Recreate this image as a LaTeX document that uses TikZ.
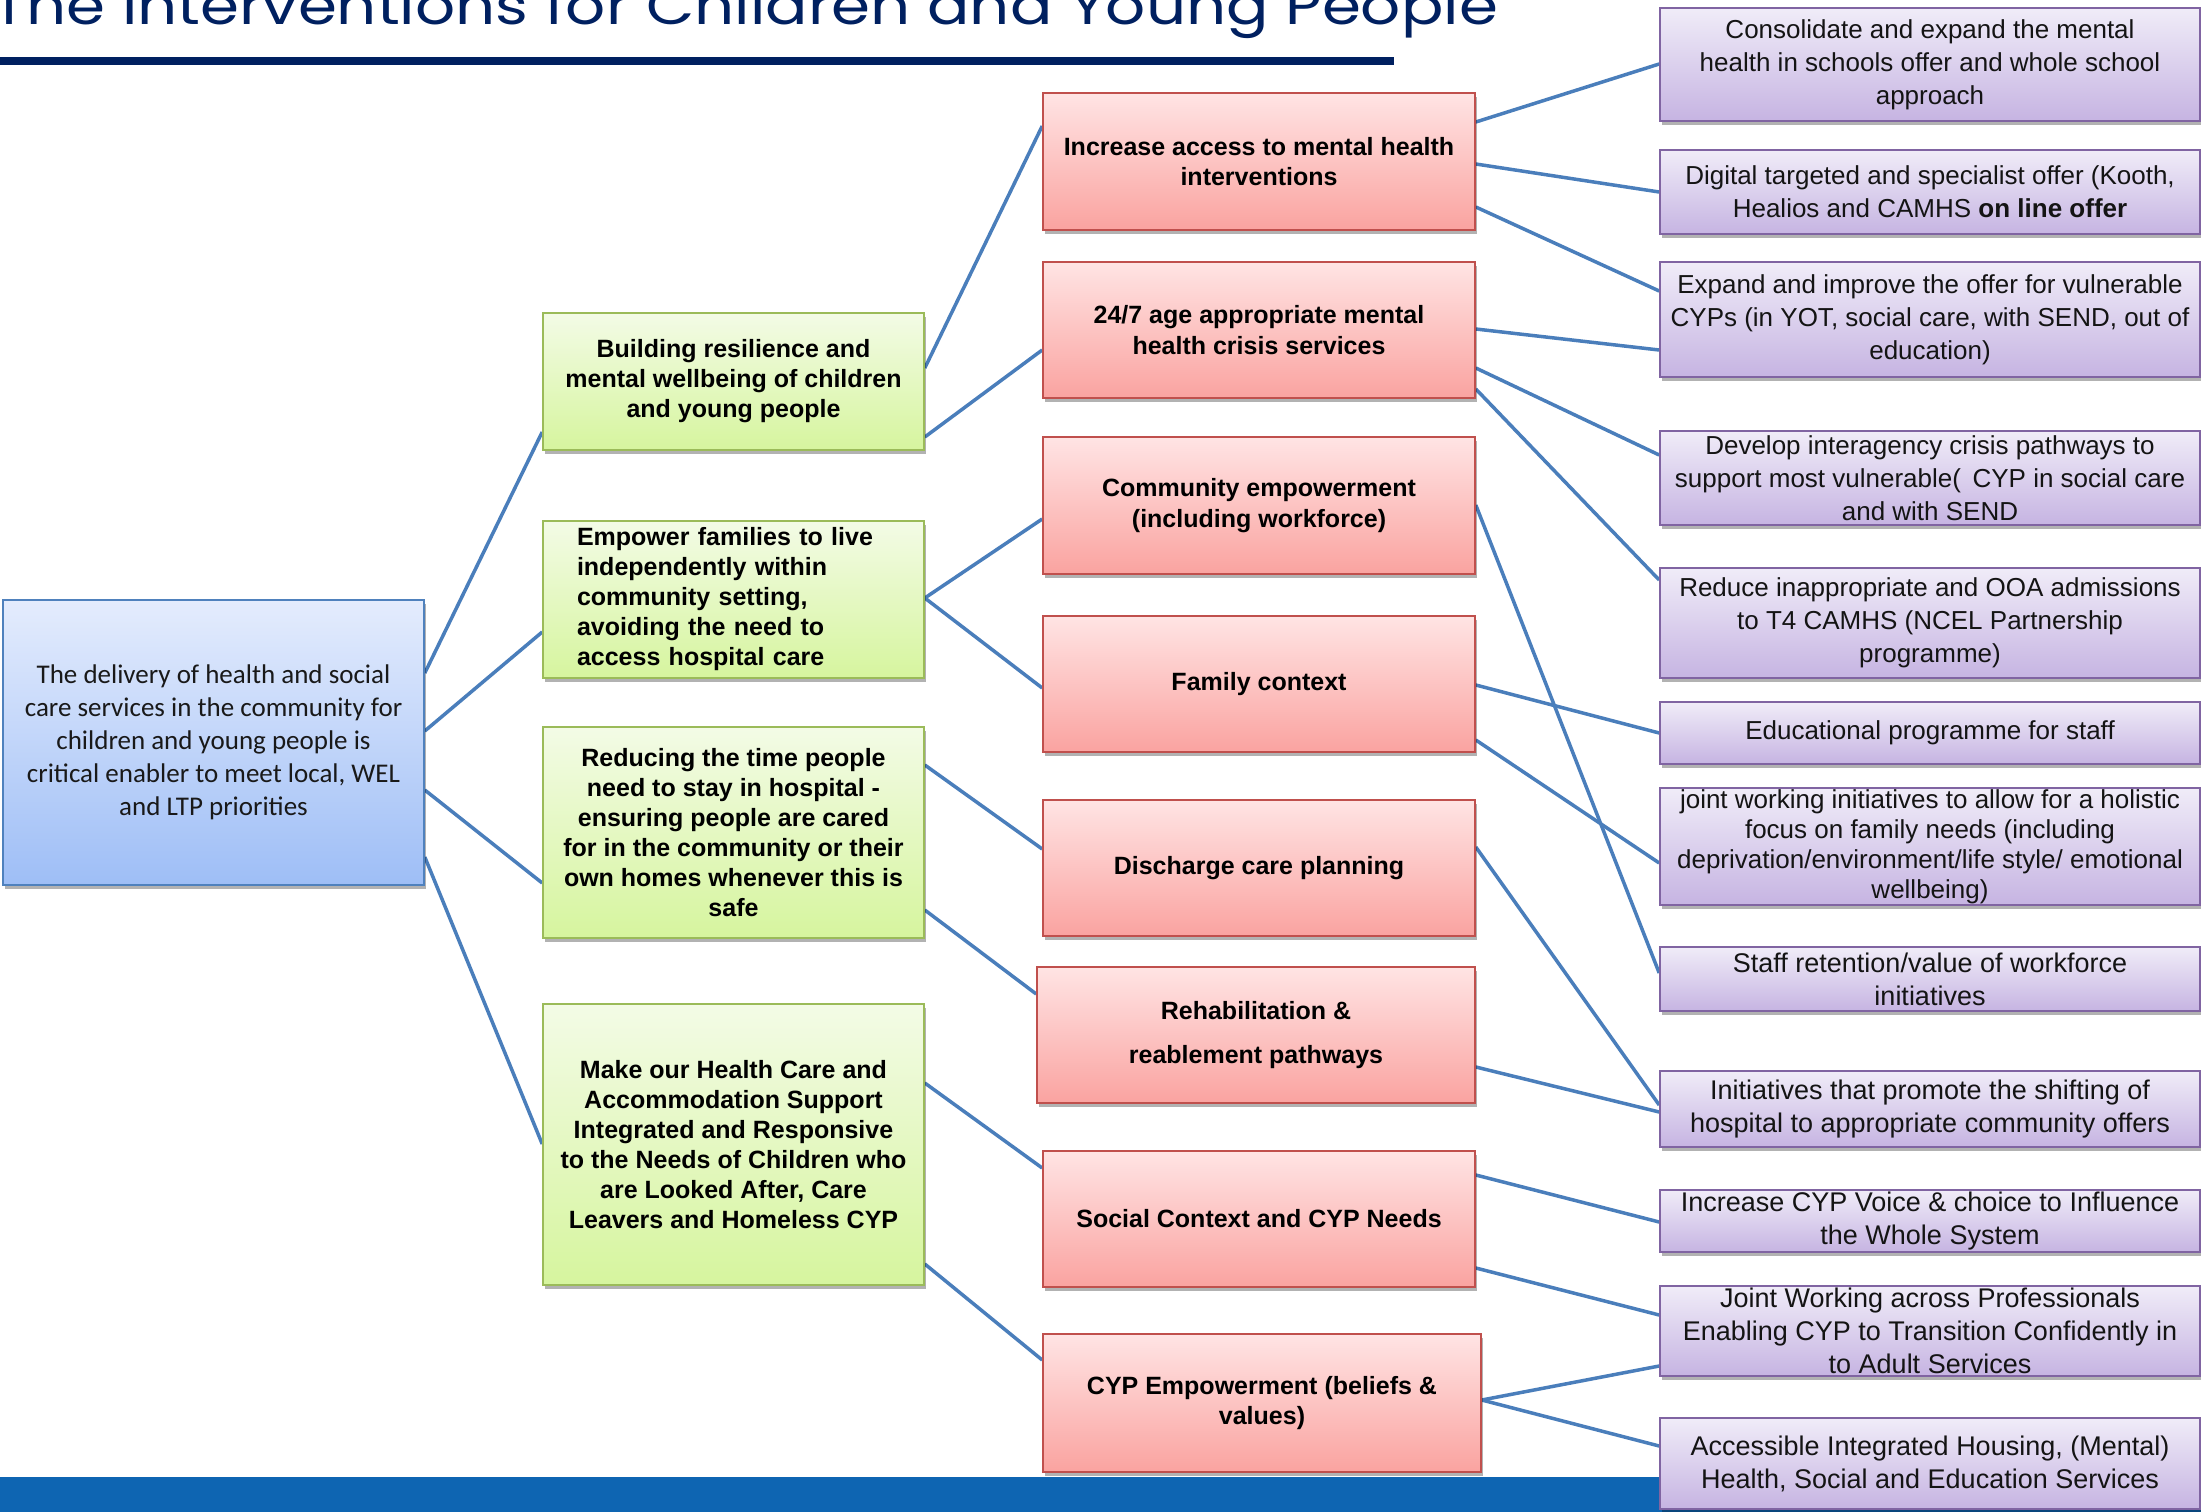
\documentclass[tikz,border=0pt]{standalone}
\usepackage{fontspec}
\setmainfont{Liberation Sans}
\newfontfamily\calib{Carlito}
\newfontfamily\titlef{Poppins}
\usetikzlibrary{shadows}
\pgfdeclarelayer{bg}
\pgfdeclarelayer{lines}
\pgfsetlayers{bg,lines,main}
\definecolor{navy}{RGB}{0,32,96}
\definecolor{bandc}{RGB}{14,101,178}
\definecolor{lnc}{RGB}{74,126,187}
\definecolor{gtop}{RGB}{243,251,230}
\definecolor{gbot}{RGB}{214,245,158}
\definecolor{gbd}{RGB}{155,187,89}
\definecolor{rtop}{RGB}{255,228,228}
\definecolor{rbot}{RGB}{250,163,160}
\definecolor{rbd}{RGB}{192,80,77}
\definecolor{ptop}{RGB}{240,236,248}
\definecolor{pbot}{RGB}{198,180,226}
\definecolor{pbd}{RGB}{128,100,162}
\definecolor{btop}{RGB}{228,236,253}
\definecolor{bbot}{RGB}{158,190,246}
\definecolor{bbd}{RGB}{79,129,189}
\begin{document}
\begin{tikzpicture}[x=1pt,y=-1pt,
  box/.style={draw, line width=1.6pt, inner sep=0pt, align=center,
    drop shadow={shadow xshift=1.5pt, shadow yshift=-3.5pt, opacity=0.3, fill=black}},
  sz/.style 2 args={minimum width=#1pt, minimum height=#2pt},
  bbox/.style={box, draw=bbd, top color=btop, bottom color=bbot, text={rgb,255:red,25;green,25;blue,25}, font=\calib\fontsize{27}{33}\selectfont},
  gbox/.style={box, draw=gbd, top color=gtop, bottom color=gbot, font=\bfseries\fontsize{25}{30}\selectfont},
  rbox/.style={box, draw=rbd, top color=rtop, bottom color=rbot, font=\bfseries\fontsize{25}{30.5}\selectfont},
  pbox/.style={box, draw=pbd, top color=ptop, bottom color=pbot, text={rgb,255:red,20;green,20;blue,20}, font=\fontsize{26}{33}\selectfont, minimum width=540pt},
  conn/.style={draw=lnc, line width=3.5pt}
]
\useasboundingbox (0,0) rectangle (2201,1512);
\begin{pgfonlayer}{bg}
  \fill[white] (0,0) rectangle (2201,1512);
  \fill[bandc] (0,1477) rectangle (2201,1512);
\end{pgfonlayer}

% title
\node[anchor=base west, inner sep=0pt, text=navy] (title) at (-8,25)
  {\resizebox{1505pt}{40pt}{\titlef The Interventions for Children and Young People}};
\fill[navy] (0,57) rectangle (1394,65);

% root
\node[bbox, sz={421}{285}] (B) at (213.5,742.5) {The delivery of health and social\\care services in the community for\\children and young people is\\critical enabler to meet local, WEL\\and LTP priorities};

% green
\node[gbox, sz={381}{137}] (G1) at (733.5,381.5) {Building resilience and\\mental wellbeing of children\\and young people};
\node[gbox, minimum height=157pt, text width=313pt, inner xsep=34pt, align=left] (G2) at (733.5,599.5) {Empower families to live\\independently within\\community setting,\\avoiding the need to\\access hospital care};
\node[gbox, sz={381}{211}] (G3) at (733.5,832.5) {Reducing the time people\\need to stay in hospital -\\ensuring people are cared\\for in the community or their\\own homes whenever this is\\safe};
\node[gbox, sz={381}{281}] (G4) at (733.5,1144.5) {Make our Health Care and\\Accommodation Support\\Integrated and Responsive\\to the Needs of Children who\\are Looked After, Care\\Leavers and Homeless CYP};

% red
\node[rbox, sz={432}{137}] (R1) at (1259,161.5) {Increase access to mental health\\interventions};
\node[rbox, sz={432}{136}] (R2) at (1259,330) {24/7 age appropriate mental\\health crisis services};
\node[rbox, sz={432}{137}] (R3) at (1259,505.5) {Community empowerment\\(including workforce)};
\node[rbox, sz={432}{136}] (R4) at (1259,684) {Family context};
\node[rbox, sz={432}{136}] (R5) at (1259,868) {Discharge care planning};
\node[rbox, sz={438}{136}] (R6) at (1256,1035) {Rehabilitation \&\\[14pt]reablement pathways};
\node[rbox, sz={432}{136}] (R7) at (1259,1219) {Social Context and CYP Needs};
\node[rbox, sz={438}{138}] (R8) at (1262,1403) {CYP Empowerment (beliefs \&\\values)};

% purple
\node[pbox, minimum height=113pt] (P1) at (1930,64.5) {Consolidate and expand the mental\\health in schools offer and whole school\\approach};
\node[pbox, minimum height=84pt] (P2) at (1930,192) {Digital targeted and specialist offer (Kooth,\\Healios and CAMHS \textbf{on line offer}};
\node[pbox, minimum height=115pt] (P3) at (1930,319.5) {Expand and improve the offer for vulnerable\\CYPs (in YOT, social care, with SEND, out of\\education)};
\node[pbox, minimum height=94pt] (P4) at (1930,478) {Develop interagency crisis pathways to\\support most vulnerable( \,CYP in social care\\and with SEND};
\node[pbox, minimum height=110pt] (P5) at (1930,623) {Reduce inappropriate and OOA admissions\\to T4 CAMHS (NCEL Partnership\\programme)};
\node[pbox, minimum height=62pt] (P6) at (1930,733) {Educational programme for staff};
\node[pbox, minimum height=117pt, font=\fontsize{26}{30}\selectfont] (P7) at (1930,846.5) {joint working initiatives to allow for a holistic\\focus on family needs (including\\deprivation/environment/life style/ emotional\\wellbeing)};
\node[pbox, minimum height=64pt, font=\fontsize{27}{33}\selectfont] (P8) at (1930,979) {Staff retention/value of workforce\\initiatives};
\node[pbox, minimum height=76pt, font=\fontsize{27}{33}\selectfont] (P9) at (1930,1109) {Initiatives that promote the shifting of\\hospital to appropriate community offers};
\node[pbox, minimum height=62pt, font=\fontsize{27}{33}\selectfont] (P10) at (1930,1221) {Increase CYP Voice \& choice to Influence\\the Whole System};
\node[pbox, minimum height=90pt, font=\fontsize{27}{33}\selectfont] (P11) at (1930,1331) {Joint Working across Professionals\\Enabling CYP to Transition Confidently in\\to Adult Services};
\node[pbox, minimum height=91pt, font=\fontsize{27}{33}\selectfont] (P12) at (1930,1463.5) {Accessible Integrated Housing, (Mental)\\Health, Social and Education Services};

\begin{pgfonlayer}{lines}
% root to green
\draw[conn] (B.east |- 0,673) -- (G1.west |- 0,432);
\draw[conn] (B.east |- 0,731) -- (G2.west |- 0,632);
\draw[conn] (B.east |- 0,790) -- (G3.west |- 0,883);
\draw[conn] (B.east |- 0,857) -- (G4.west |- 0,1144);
% green to red
\draw[conn] (G1.east |- 0,368) -- (R1.west |- 0,126);
\draw[conn] (G1.east |- 0,437) -- (R2.west |- 0,350);
\draw[conn] (G2.east |- 0,598) -- (R3.west |- 0,519);
\draw[conn] (G2.east |- 0,598) -- (R4.west |- 0,688);
\draw[conn] (G3.east |- 0,765) -- (R5.west |- 0,849);
\draw[conn] (G3.east |- 0,910) -- (R6.west |- 0,994);
\draw[conn] (G4.east |- 0,1083) -- (R7.west |- 0,1168);
\draw[conn] (G4.east |- 0,1264) -- (R8.west |- 0,1360);
% red to purple
\draw[conn] (R1.east |- 0,122) -- (P1.west |- 0,64);
\draw[conn] (R1.east |- 0,164) -- (P2.west |- 0,192);
\draw[conn] (R1.east |- 0,207) -- (P3.west |- 0,291);
\draw[conn] (R2.east |- 0,329) -- (P3.west |- 0,350);
\draw[conn] (R2.east |- 0,368) -- (P4.west |- 0,455);
\draw[conn] (R2.east |- 0,389) -- (P5.west |- 0,580);
\draw[conn] (R3.east |- 0,505) -- (P8.west |- 0,973);
\draw[conn] (R4.east |- 0,685) -- (P6.west |- 0,733);
\draw[conn] (R4.east |- 0,740) -- (P7.west |- 0,863);
\draw[conn] (R5.east |- 0,847) -- (P9.west |- 0,1105);
\draw[conn] (R6.east |- 0,1067) -- (P9.west |- 0,1112);
\draw[conn] (R7.east |- 0,1175) -- (P10.west |- 0,1222);
\draw[conn] (R7.east |- 0,1268) -- (P11.west |- 0,1315);
\draw[conn] (R8.east |- 0,1400) -- (P11.west |- 0,1366);
\draw[conn] (R8.east |- 0,1400) -- (P12.west |- 0,1446);
\end{pgfonlayer}
\end{tikzpicture}
\end{document}
